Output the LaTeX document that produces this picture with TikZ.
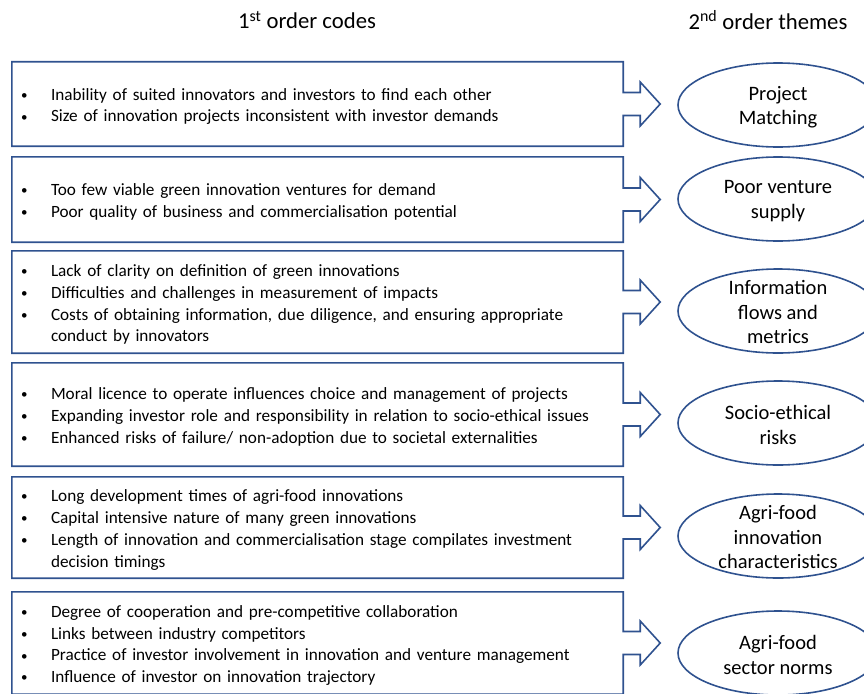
\documentclass[tikz,border=0pt]{standalone}
\usepackage{fontspec}
\setmainfont{Carlito}
\usetikzlibrary{calc}

\definecolor{outlineblue}{RGB}{47,82,143}
\newcommand{\itm}[1]{\makebox[30pt][l]{\raisebox{0.05em}{\fontsize{13}{13}\selectfont\textbullet}}#1}

\tikzset{
	codebox/.style={minimum width=611pt, text width=593pt, inner xsep=9pt, inner ysep=0pt, align=left, font=\fontsize{17.2}{21.9}\selectfont},
	codetext/.style={codebox, draw=none, yshift=-2.5pt},
	themetext/.style={align=center, inner sep=0pt, font=\fontsize{20.5}{24.5}\selectfont},
	heading/.style={font=\fontsize{22.7}{26}\selectfont},
	edge/.style={draw=outlineblue, line width=1.6pt, line join=miter}
}

\begin{document}
\begin{tikzpicture}[x=1pt, y=-1pt]
		\useasboundingbox (0,0) rectangle (864,693);

		\node [heading] (h1) at (307,20) {1\textsuperscript{st} order codes};
		\node [heading] (h2) at (768,20) {2\textsuperscript{nd} order themes};

		\node [codebox, minimum height=84pt] (c1) at (317.5,104) {};
		\node [codebox, minimum height=85pt] (c2) at (317.5,199.5) {};
		\node [codebox, minimum height=102pt] (c3) at (317.5,302) {};
		\node [codebox, minimum height=103pt] (c4) at (317.5,414.5) {};
		\node [codebox, minimum height=101pt] (c5) at (317.5,527.5) {};
		\node [codebox, minimum height=102pt] (c6) at (317.5,643) {};

		\node [codetext] (l1) at (c1) {\itm{Inability of suited innovators and investors to find each other}\\
			\itm{Size of innovation projects inconsistent with investor demands}};
		\node [codetext] (l2) at (c2) {\itm{Too few viable green innovation ventures for demand}\\
			\itm{Poor quality of business and commercialisation potential}};
		\node [codetext] (l3) at (c3) {\itm{Lack of clarity on definition of green innovations}\\
			\itm{Difficulties and challenges in measurement of impacts}\\
			\itm{Costs of obtaining information, due diligence, and ensuring appropriate}\\
			\hspace*{30pt}conduct by innovators};
		\node [codetext] (l4) at (c4) {\itm{Moral licence to operate influences choice and management of projects}\\
			\itm{Expanding investor role and responsibility in relation to socio-ethical issues}\\
			\itm{Enhanced risks of failure/ non-adoption due to societal externalities}};
		\node [codetext] (l5) at (c5) {\itm{Long development times of agri-food innovations}\\
			\itm{Capital intensive nature of many green innovations}\\
			\itm{Length of innovation and commercialisation stage compilates investment}\\
			\hspace*{30pt}decision timings};
		\node [codetext] (l6) at (c6) {\itm{Degree of cooperation and pre-competitive collaboration}\\
			\itm{Links between industry competitors}\\
			\itm{Practice of investor involvement in innovation and venture management}\\
			\itm{Influence of investor on innovation trajectory}};

		% box outlines with arrow
		\foreach \b in {c1,c2,c3,c4,c5,c6}
			\draw [edge] (\b.north west) -- (\b.north east) -- ($(\b.east)+(0,-11.5)$) -- ++(17,0) -- ++(0,-10.5)
				-- ($(\b.east)+(37,0)$) -- ($(\b.east)+(17,22)$) -- ++(0,-10.5) -- ($(\b.east)+(0,11.5)$)
				-- (\b.south east) -- (\b.south west) -- cycle;

		\node [themetext] (t1) at (778,107) {Project\\Matching};
		\node [themetext] (t2) at (778,201) {Poor venture\\supply};
		\node [themetext] (t3) at (778,312) {Information\\flows and\\metrics};
		\node [themetext] (t4) at (778,425) {Socio-ethical\\risks};
		\node [themetext] (t5) at (778,537) {Agri-food\\innovation\\characteristics};
		\node [themetext] (t6) at (778,655) {Agri-food\\sector norms};

		% ellipses round the theme texts
		\draw [edge] (778,105) ellipse [x radius=100pt, y radius=42pt];
		\draw [edge] (778,199) ellipse [x radius=100pt, y radius=42pt];
		\draw [edge] (778,311) ellipse [x radius=100pt, y radius=42pt];
		\draw [edge] (778,423) ellipse [x radius=100pt, y radius=42pt];
		\draw [edge] (778,536) ellipse [x radius=100pt, y radius=42pt];
		\draw [edge] (778,653) ellipse [x radius=100pt, y radius=42pt];

	\end{tikzpicture}
\end{document}
